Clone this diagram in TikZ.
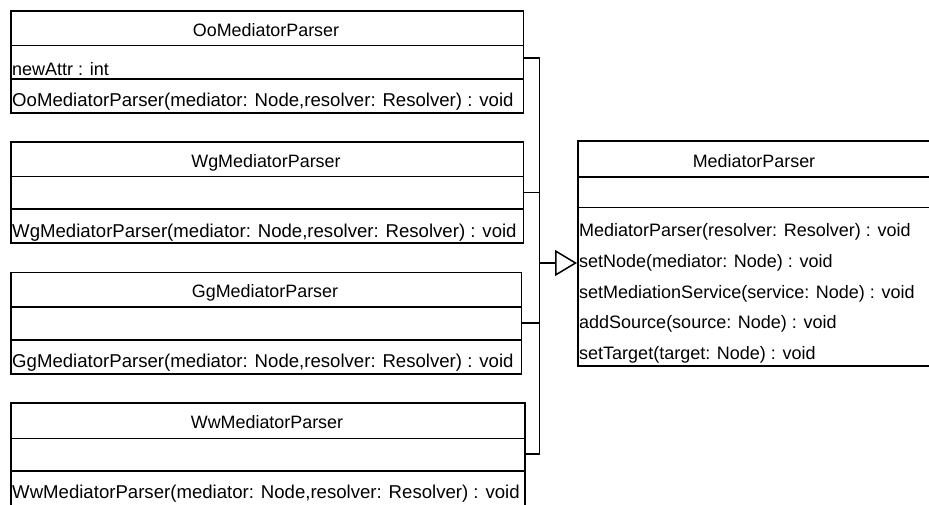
\documentclass[tikz,border=0pt]{standalone}
\usepackage{fontspec}
\setmainfont{Liberation Sans}
\usetikzlibrary{arrows.meta}
\begin{document}
\begin{tikzpicture}[x=1pt,y=-1pt,
  umlbox/.style={draw, line width=1.5pt, rectangle, inner sep=0pt, anchor=north west},
  sep/.style={line width=1.5pt},
  ttl/.style={anchor=base, inner sep=0pt, font=\fontsize{17.9}{22}\selectfont},
  member/.style={anchor=base west, inner sep=0pt, font=\fontsize{18}{22}\selectfont},
  ctor/.style={member, font=\fontsize{18.6}{22}\selectfont},
  link/.style={line width=1.5pt},
  gen/.style={link, -{Triangle[open, length=22pt, width=26pt, line width=1.5pt]}}]
\useasboundingbox (0,0) rectangle (929,504);

% OoMediatorParser
\node[umlbox, minimum width=512.5pt, minimum height=102pt] (oo) at (10,10) {};
\draw[sep] (10,45.5) -- (522.5,45.5);
\draw[sep] (10,79) -- (522.5,79);
\node[ttl] (ooT) at (266,36) {OoMediatorParser};
\node[member] (ooA) at (12,75) {newAttr : int};
\node[ctor] (ooM) at (12,106) {OoMediatorParser(mediator: Node,resolver: Resolver) : void};

% WgMediatorParser
\node[umlbox, minimum width=512.5pt, minimum height=101pt] (wg) at (10,141) {};
\draw[sep] (10,176.5) -- (522.5,176.5);
\draw[sep] (10,209) -- (522.5,209);
\node[ttl] (wgT) at (266,167) {WgMediatorParser};
\node[ctor] (wgM) at (12,237) {WgMediatorParser(mediator: Node,resolver: Resolver) : void};

% GgMediatorParser
\node[umlbox, minimum width=510.5pt, minimum height=101.5pt] (gg) at (10,271.5) {};
\draw[sep] (10,307) -- (520.5,307);
\draw[sep] (10,340) -- (520.5,340);
\node[ttl] (ggT) at (265,297) {GgMediatorParser};
\node[ctor] (ggM) at (12,367) {GgMediatorParser(mediator: Node,resolver: Resolver) : void};

% WwMediatorParser
\node[umlbox, minimum width=514pt, minimum height=104pt] (ww) at (10,402) {};
\draw[sep] (10,438.5) -- (524,438.5);
\draw[sep] (10,471) -- (524,471);
\node[ttl] (wwT) at (267,428) {WwMediatorParser};
\node[ctor] (wwM) at (12,498) {WwMediatorParser(mediator: Node,resolver: Resolver) : void};

% MediatorParser
\node[umlbox, minimum width=354pt, minimum height=225pt] (mp) at (577,140) {};
\draw[sep] (577,177) -- (931,177);
\draw[sep] (577,207.5) -- (931,207.5);
\node[ttl] (mpT) at (754,167) {MediatorParser};
\node[member] (mpM1) at (579,236) {MediatorParser(resolver: Resolver) : void};
\node[member] (mpM2) at (579,267) {setNode(mediator: Node) : void};
\node[member] (mpM3) at (579,298) {setMediationService(service: Node) : void};
\node[member] (mpM4) at (579,328.5) {addSource(source: Node) : void};
\node[member] (mpM5) at (579,359) {setTarget(target: Node) : void};

% attachment points of the generalization tree
\coordinate (ooE) at (522.5,58);
\coordinate (wgE) at (522.5,192.5);
\coordinate (ggE) at (520.5,323);
\coordinate (wwE) at (524,454);
\coordinate (busTop) at (539.5,58);
\coordinate (busBot) at (539.5,454);
\coordinate (hub) at (539.5,263);
\coordinate (mpIn) at (577,263);

\draw[link] (ooE) -- (busTop) -- (busBot) -- (wwE);
\draw[link] (wgE) -- (wgE -| hub);
\draw[link] (ggE) -- (ggE -| hub);
\draw[gen] (hub) -- (mpIn);
\end{tikzpicture}
\end{document}
